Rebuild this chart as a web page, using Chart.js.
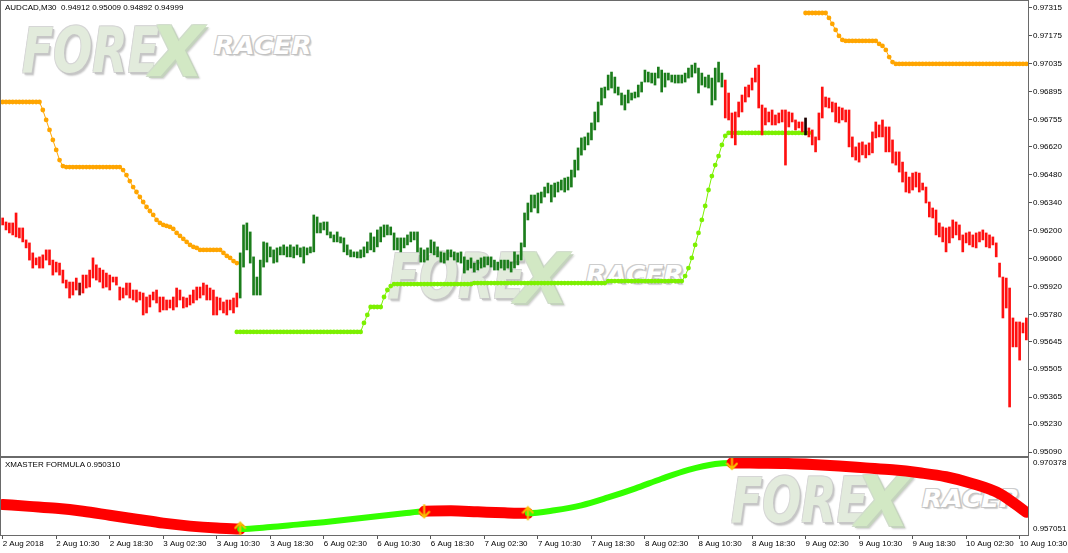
<!DOCTYPE html>
<html>
<head>
<meta charset="utf-8">
<script src="https://cdn.jsdelivr.net/npm/chart.js@4.4.0/dist/chart.umd.min.js"></script>
<style>
html, body { margin: 0; padding: 0; background: #fff; }
#wrap { position: relative; width: 1068px; height: 553px; overflow: hidden; font-family: "Liberation Sans", Arial, sans-serif; }
.box { position: absolute; left: 0; width: 1068px; z-index: 1; }
.wm span { position: absolute; white-space: nowrap; font-family: "DejaVu Sans", sans-serif; font-weight: bold; font-style: italic; line-height: 1; transform-origin: left bottom; z-index: 0; }
.wm .f { font-size: 62px; color: #e2ebdc; transform: scaleX(0.74); text-shadow: 2px 2px 0 #c6c6c6, -1px -1px 0 #d6d6d6, 1px -1px 0 #d6d6d6, -1px 1px 0 #d6d6d6, 3px 3px 2px #cfcfcf; }
.wm .x { font-size: 70px; color: #d2e8c4; transform: scaleX(1.0); text-shadow: 2px 2px 0 #c4d3bd, -1px -1px 0 #d0dccb, 1px -1px 0 #d0dccb, -1px 1px 0 #d0dccb, 3px 3px 2px #cfcfcf; }
.wm .r { font-size: 24px; color: #fff; transform: scaleX(1.1); text-shadow: 1px 1px 0 #c2c2c2, -1px -1px 0 #cdcdcd, 1px -1px 0 #cdcdcd, -1px 1px 0 #cdcdcd, 2px 2px 1px #d0d0d0; }
.frame { position: absolute; border: 1px solid #6a6a6a; box-sizing: border-box; z-index: 2; pointer-events: none; }
.title { position: absolute; left: 5px; font-size: 8px; color: #000; white-space: pre; z-index: 3; }
</style>
</head>
<body>
<div id="wrap">
  <div class="wm">
    <span class="f" style="left:22px;top:20px">FORE</span><span class="x" style="left:150px;top:17px">X</span><span class="r" style="left:214px;top:34px">RACER</span>
    <span class="f" style="left:388px;top:246px">FORE</span><span class="x" style="left:515px;top:244px">X</span><span class="r" style="left:586px;top:263px">RACER</span>
    <span class="f" style="left:731px;top:470px">FORE</span><span class="x" style="left:856px;top:467px">X</span><span class="r" style="left:922px;top:487px">RACER</span>
  </div>
  <div class="box" style="top:0;height:457px"><canvas id="priceChart"></canvas></div>
  <div class="box" style="top:457px;height:96px"><canvas id="xmChart"></canvas></div>
  <div class="frame" style="left:0;top:0;width:1029px;height:457px"></div>
  <div class="frame" style="left:0;top:457px;width:1029px;height:79px"></div>
  <div class="title" style="top:3px">AUDCAD,M30  0.94912 0.95009 0.94892 0.94999</div>
  <div class="title" style="top:460px">XMASTER FORMULA 0.950310</div>
</div>
<script>
// time axis: one label every 16 bars (8 hours of M30)
const timeLabels = ['2 Aug 2018', '2 Aug 10:30', '2 Aug 18:30', '3 Aug 02:30', '3 Aug 10:30', '3 Aug 18:30',
    '6 Aug 02:30', '6 Aug 10:30', '6 Aug 18:30', '7 Aug 02:30', '7 Aug 10:30', '7 Aug 18:30', '8 Aug 02:30',
    '8 Aug 10:30', '8 Aug 18:30', '9 Aug 02:30', '9 Aug 10:30', '9 Aug 18:30', '10 Aug 02:30', '10 Aug 10:30'];
const barsPerLabel = 16;

const priceTicks = [0.97315, 0.97175, 0.97035, 0.96895, 0.96755, 0.96620, 0.96480, 0.96340, 0.96200,
    0.96060, 0.95920, 0.95780, 0.95645, 0.95505, 0.95365, 0.95230, 0.95090];
const xmTicks = [0.970378, 0.957051];

// bar highs / lows, one per M30 bar
const highs = [
    0.96263, 0.96243, 0.96238, 0.96238, 0.96288, 0.96213, 0.96213, 0.96153, 0.96138, 0.96088,
    0.96063, 0.96068, 0.96078, 0.96103, 0.96103, 0.96052, 0.96042, 0.96037, 0.96002, 0.95952,
    0.95942, 0.95942, 0.95962, 0.95937, 0.95977, 0.95977, 0.96002, 0.96063, 0.96028, 0.96012,
    0.96002, 0.95987, 0.95977, 0.95967, 0.95967, 0.95917, 0.95912, 0.95937, 0.95937, 0.95902,
    0.95902, 0.95892, 0.95887, 0.95867, 0.95877, 0.95892, 0.95902, 0.95867, 0.95867, 0.95852,
    0.95852, 0.95867, 0.95912, 0.95902, 0.95867, 0.95862, 0.95877, 0.95902, 0.95917, 0.95917,
    0.95937, 0.95927, 0.95912, 0.95902, 0.95867, 0.95862, 0.95842, 0.95852, 0.95852, 0.95862,
    0.95887, 0.96088, 0.96228, 0.96238, 0.96193, 0.96068, 0.95967, 0.96052, 0.96143, 0.96138,
    0.96118, 0.96103, 0.96113, 0.96118, 0.96128, 0.96118, 0.96128, 0.96118, 0.96128, 0.96113,
    0.96118, 0.96113, 0.96118, 0.96278, 0.96268, 0.96238, 0.96243, 0.96243, 0.96193, 0.96178,
    0.96193, 0.96168, 0.96163, 0.96128, 0.96103, 0.96093, 0.96093, 0.96103, 0.96118, 0.96143,
    0.96188, 0.96168, 0.96203, 0.96218, 0.96228, 0.96228, 0.96218, 0.96188, 0.96163, 0.96163,
    0.96163, 0.96178, 0.96193, 0.96193, 0.96193, 0.96113, 0.96103, 0.96113, 0.96153, 0.96143,
    0.96118, 0.96093, 0.96088, 0.96103, 0.96103, 0.96093, 0.96088, 0.96093, 0.96068, 0.96052,
    0.96063, 0.96037, 0.96052, 0.96063, 0.96068, 0.96068, 0.96068, 0.96052, 0.96042, 0.96052,
    0.96052, 0.96052, 0.96042, 0.96093, 0.96078, 0.96138, 0.96288, 0.96338, 0.96378, 0.96378,
    0.96388, 0.96393, 0.96418, 0.96438, 0.96428, 0.96438, 0.96443, 0.96453, 0.96463, 0.96468,
    0.96503, 0.96553, 0.96614, 0.96664, 0.96669, 0.96689, 0.96739, 0.96794, 0.96844, 0.96914,
    0.96919, 0.96979, 0.96994, 0.96969, 0.96919, 0.96889, 0.96879, 0.96904, 0.96889, 0.96894,
    0.96929, 0.96944, 0.97004, 0.96994, 0.96989, 0.96989, 0.97019, 0.97004, 0.96989, 0.96989,
    0.96979, 0.96979, 0.96979, 0.96979, 0.96989, 0.97014, 0.97029, 0.97039, 0.97014, 0.96989,
    0.96969, 0.96979, 0.96964, 0.97014, 0.97044, 0.96989, 0.96954, 0.96889, 0.96789, 0.96794,
    0.96844, 0.96879, 0.96919, 0.96929, 0.96964, 0.97014, 0.97029, 0.96829, 0.96814, 0.96794,
    0.96804, 0.96779, 0.96789, 0.96804, 0.96804, 0.96794, 0.96789, 0.96754, 0.96744, 0.96744,
    0.96764, 0.96714, 0.96704, 0.96669, 0.96789, 0.96919, 0.96869, 0.96864, 0.96844, 0.96839,
    0.96819, 0.96814, 0.96804, 0.96804, 0.96669, 0.96619, 0.96639, 0.96644, 0.96629, 0.96639,
    0.96694, 0.96744, 0.96729, 0.96754, 0.96719, 0.96719, 0.96654, 0.96594, 0.96594, 0.96543,
    0.96493, 0.96468, 0.96488, 0.96493, 0.96488, 0.96438, 0.96418, 0.96343, 0.96313, 0.96303,
    0.96238, 0.96218, 0.96213, 0.96218, 0.96253, 0.96243, 0.96228, 0.96178, 0.96188, 0.96193,
    0.96178, 0.96188, 0.96193, 0.96203, 0.96188, 0.96178, 0.96168, 0.96138, 0.96037, 0.95967,
    0.95962, 0.95912, 0.95762, 0.95742, 0.95742, 0.95737, 0.95762
];
const lows = [
    0.96228, 0.96203, 0.96188, 0.96178, 0.96168, 0.96163, 0.96143, 0.96113, 0.96052, 0.96012,
    0.96028, 0.96012, 0.96012, 0.96052, 0.96028, 0.95977, 0.95992, 0.95977, 0.95937, 0.95912,
    0.95862, 0.95877, 0.95902, 0.95877, 0.95887, 0.95912, 0.95917, 0.95962, 0.95952, 0.95942,
    0.95912, 0.95917, 0.95902, 0.95942, 0.95927, 0.95852, 0.95862, 0.95877, 0.95862, 0.95852,
    0.95842, 0.95852, 0.95777, 0.95787, 0.95817, 0.95852, 0.95837, 0.95792, 0.95802, 0.95802,
    0.95812, 0.95802, 0.95817, 0.95852, 0.95812, 0.95817, 0.95827, 0.95837, 0.95852, 0.95862,
    0.95877, 0.95852, 0.95852, 0.95777, 0.95777, 0.95802, 0.95787, 0.95777, 0.95802, 0.95787,
    0.95817, 0.95862, 0.96017, 0.96103, 0.96037, 0.95877, 0.95877, 0.95877, 0.96017, 0.96042,
    0.96068, 0.96037, 0.96042, 0.96078, 0.96078, 0.96068, 0.96068, 0.96063, 0.96078, 0.96068,
    0.96037, 0.96078, 0.96088, 0.96093, 0.96188, 0.96188, 0.96203, 0.96178, 0.96163, 0.96143,
    0.96143, 0.96138, 0.96093, 0.96078, 0.96068, 0.96068, 0.96063, 0.96063, 0.96068, 0.96088,
    0.96103, 0.96093, 0.96118, 0.96143, 0.96168, 0.96178, 0.96178, 0.96103, 0.96103, 0.96093,
    0.96113, 0.96128, 0.96143, 0.96153, 0.96093, 0.96042, 0.96042, 0.96052, 0.96088, 0.96078,
    0.96068, 0.96042, 0.96037, 0.96052, 0.96068, 0.96052, 0.96042, 0.96037, 0.95987, 0.96002,
    0.96012, 0.95992, 0.96002, 0.96012, 0.96017, 0.96028, 0.96017, 0.96002, 0.96002, 0.96012,
    0.96002, 0.96012, 0.95992, 0.96012, 0.96028, 0.96052, 0.96118, 0.96253, 0.96293, 0.96313,
    0.96288, 0.96338, 0.96368, 0.96388, 0.96343, 0.96368, 0.96393, 0.96403, 0.96393, 0.96403,
    0.96418, 0.96468, 0.96503, 0.96578, 0.96604, 0.96629, 0.96654, 0.96704, 0.96744, 0.96829,
    0.96864, 0.96904, 0.96914, 0.96889, 0.96879, 0.96829, 0.96804, 0.96839, 0.96854, 0.96864,
    0.96869, 0.96894, 0.96944, 0.96944, 0.96939, 0.96929, 0.96964, 0.96894, 0.96919, 0.96954,
    0.96944, 0.96939, 0.96939, 0.96939, 0.96944, 0.96964, 0.96969, 0.96989, 0.96889, 0.96929,
    0.96919, 0.96914, 0.96829, 0.96854, 0.96944, 0.96919, 0.96764, 0.96754, 0.96664, 0.96629,
    0.96769, 0.96794, 0.96844, 0.96869, 0.96904, 0.96944, 0.96814, 0.96679, 0.96729, 0.96744,
    0.96729, 0.96729, 0.96739, 0.96744, 0.96528, 0.96719, 0.96744, 0.96704, 0.96714, 0.96694,
    0.96679, 0.96669, 0.96629, 0.96594, 0.96654, 0.96764, 0.96819, 0.96814, 0.96794, 0.96744,
    0.96739, 0.96754, 0.96744, 0.96619, 0.96569, 0.96553, 0.96543, 0.96579, 0.96564, 0.96579,
    0.96589, 0.96664, 0.96669, 0.96669, 0.96594, 0.96594, 0.96538, 0.96528, 0.96493, 0.96443,
    0.96393, 0.96388, 0.96403, 0.96418, 0.96393, 0.96403, 0.96338, 0.96268, 0.96263, 0.96178,
    0.96168, 0.96143, 0.96093, 0.96138, 0.96163, 0.96178, 0.96153, 0.96093, 0.96138, 0.96128,
    0.96118, 0.96113, 0.96143, 0.96153, 0.96118, 0.96113, 0.96128, 0.96068, 0.95967, 0.95762,
    0.95812, 0.95316, 0.95617, 0.95617, 0.95551, 0.95687, 0.95652
];
// bars coloured by trend: green run in the middle, two neutral bars
const bullFrom = 71;
const bullTo = 215;
const neutralBars = [23, 240];

// orange stop dots (two runs) and lime support dots
const orangeLeftStart = 0;
const orangeLeft = [
    0.96844, 0.96844, 0.96844, 0.96844, 0.96844, 0.96844, 0.96844, 0.96844, 0.96844, 0.96844,
    0.96844, 0.96844, 0.96804, 0.96754, 0.96704, 0.96654, 0.96604, 0.96553, 0.96523, 0.96518,
    0.96518, 0.96518, 0.96518, 0.96518, 0.96518, 0.96518, 0.96518, 0.96518, 0.96518, 0.96518,
    0.96518, 0.96518, 0.96518, 0.96518, 0.96518, 0.96518, 0.96503, 0.96478, 0.96448, 0.96418,
    0.96393, 0.96368, 0.96343, 0.96318, 0.96298, 0.96278, 0.96253, 0.96238, 0.96228, 0.96223,
    0.96218, 0.96208, 0.96188, 0.96173, 0.96158, 0.96143, 0.96128, 0.96118, 0.96113, 0.96103,
    0.96103, 0.96103, 0.96103, 0.96103, 0.96103, 0.96103, 0.96088, 0.96073, 0.96063, 0.96047,
    0.96037
];
const orangeRightStart = 240;
const orangeRight = [
    0.97290, 0.97290, 0.97290, 0.97290, 0.97290, 0.97290, 0.97290, 0.97265, 0.97235, 0.97205,
    0.97175, 0.97155, 0.97150, 0.97150, 0.97150, 0.97150, 0.97150, 0.97150, 0.97150, 0.97150,
    0.97150, 0.97150, 0.97135, 0.97125, 0.97105, 0.97069, 0.97044, 0.97035, 0.97035, 0.97035,
    0.97035, 0.97035, 0.97035, 0.97035, 0.97035, 0.97035, 0.97035, 0.97035, 0.97035, 0.97035,
    0.97035, 0.97035, 0.97035, 0.97035, 0.97035, 0.97035, 0.97035, 0.97035, 0.97035, 0.97035,
    0.97035, 0.97035, 0.97035, 0.97035, 0.97035, 0.97035, 0.97035, 0.97035, 0.97035, 0.97035,
    0.97035, 0.97035, 0.97035, 0.97035, 0.97035, 0.97035, 0.97035
];
const limeStart = 70;
const lime = [
    0.95692, 0.95692, 0.95692, 0.95692, 0.95692, 0.95692, 0.95692, 0.95692, 0.95692, 0.95692,
    0.95692, 0.95692, 0.95692, 0.95692, 0.95692, 0.95692, 0.95692, 0.95692, 0.95692, 0.95692,
    0.95692, 0.95692, 0.95692, 0.95692, 0.95692, 0.95692, 0.95692, 0.95692, 0.95692, 0.95692,
    0.95692, 0.95692, 0.95692, 0.95692, 0.95692, 0.95692, 0.95692, 0.95692, 0.95737, 0.95777,
    0.95817, 0.95817, 0.95817, 0.95817, 0.95867, 0.95902, 0.95922, 0.95932, 0.95932, 0.95932,
    0.95932, 0.95932, 0.95932, 0.95932, 0.95932, 0.95932, 0.95932, 0.95932, 0.95932, 0.95932,
    0.95932, 0.95932, 0.95932, 0.95932, 0.95932, 0.95932, 0.95932, 0.95932, 0.95932, 0.95932,
    0.95932, 0.95937, 0.95937, 0.95937, 0.95937, 0.95937, 0.95937, 0.95937, 0.95937, 0.95937,
    0.95937, 0.95937, 0.95937, 0.95937, 0.95937, 0.95937, 0.95937, 0.95937, 0.95937, 0.95937,
    0.95937, 0.95937, 0.95937, 0.95937, 0.95937, 0.95937, 0.95937, 0.95937, 0.95937, 0.95937,
    0.95937, 0.95937, 0.95937, 0.95937, 0.95937, 0.95937, 0.95937, 0.95937, 0.95937, 0.95937,
    0.95937, 0.95947, 0.95947, 0.95947, 0.95947, 0.95947, 0.95947, 0.95947, 0.95947, 0.95947,
    0.95947, 0.95947, 0.95947, 0.95947, 0.95947, 0.95947, 0.95947, 0.95947, 0.95947, 0.95947,
    0.95947, 0.95947, 0.95947, 0.95947, 0.95972, 0.96012, 0.96063, 0.96128, 0.96188, 0.96253,
    0.96323, 0.96403, 0.96473, 0.96528, 0.96573, 0.96629, 0.96674, 0.96689, 0.96689, 0.96689,
    0.96689, 0.96689, 0.96689, 0.96689, 0.96689, 0.96689, 0.96689, 0.96689, 0.96689, 0.96689,
    0.96689, 0.96689, 0.96689, 0.96689, 0.96689, 0.96689, 0.96689, 0.96689, 0.96689, 0.96689,
    0.96689, 0.96689
];

// XMASTER FORMULA line: bar index, value, colour of the stretch that starts there
const xmBars = [0, 8, 16, 24, 32, 40, 48, 56, 64, 71, 80, 88, 96, 104, 112, 120, 126, 134, 142, 150,
    157, 165, 173, 181, 189, 197, 205, 213, 218, 226, 234, 242, 250, 258, 266, 274, 282, 290, 298, 306];
const xmValues = [0.962024, 0.961626, 0.961229, 0.960632, 0.959836, 0.959041, 0.958245, 0.957648,
    0.957251, 0.957052, 0.957449, 0.957946, 0.958444, 0.959041, 0.959637, 0.960234, 0.960632, 0.960731,
    0.960532, 0.960334, 0.960234, 0.960831, 0.961825, 0.963417, 0.965207, 0.967196, 0.968986, 0.970179,
    0.970378, 0.970330, 0.970279, 0.970080, 0.969781, 0.969384, 0.968986, 0.968389, 0.967593, 0.966201,
    0.964212, 0.960433];
const xmTrend = ['r', 'r', 'r', 'r', 'r', 'r', 'r', 'r', 'r', 'g', 'g', 'g', 'g', 'g', 'g', 'g', 'r', 'r',
    'r', 'r', 'g', 'g', 'g', 'g', 'g', 'g', 'g', 'g', 'r', 'r', 'r', 'r', 'r', 'r', 'r', 'r', 'r', 'r', 'r', 'r'];
const xmArrowBars = [71, 126, 157, 218];
const xmArrowValues = [0.957152, 0.960632, 0.960234, 0.970378];
const xmArrowDir = ['up', 'down', 'up', 'down'];

const barCount = highs.length;
const GREEN_BAR = '#1b7d1b';
const RED_BAR = '#ff1010';

Chart.defaults.font.family = '"Liberation Sans", Arial, sans-serif';
Chart.defaults.font.size = 8;
Chart.defaults.color = '#000';

function barColor(i) {
    if (neutralBars.includes(i)) return i < bullFrom ? '#7a0c0c' : '#1a0000';
    return (i >= bullFrom && i <= bullTo) ? GREEN_BAR : RED_BAR;
}

function arrowIcon(dir) {
    const c = document.createElement('canvas');
    c.width = 13;
    c.height = 16;
    const g = c.getContext('2d');
    g.strokeStyle = '#f7c200';
    g.lineWidth = 2;
    g.beginPath();
    if (dir === 'up') {
        g.moveTo(6.5, 15); g.lineTo(6.5, 2);
        g.moveTo(1, 8); g.lineTo(6.5, 2); g.lineTo(12, 8);
    } else {
        g.moveTo(6.5, 1); g.lineTo(6.5, 14);
        g.moveTo(1, 8); g.lineTo(6.5, 14); g.lineTo(12, 8);
    }
    g.stroke();
    return c;
}

const xRange = { type: 'linear', min: -0.5, max: barCount - 0.5, offset: false };

// --- price window ---
new Chart(document.getElementById('priceChart'), {
    type: 'bar',
    data: {
        datasets: [
            {
                type: 'bar',
                data: highs.map((h, i) => ({ x: i, y: [lows[i], h] })),
                backgroundColor: highs.map((h, i) => barColor(i)),
                barThickness: 2,
                borderWidth: 0,
                order: 0
            },
            {
                type: 'line',
                data: orangeLeft.map((v, k) => ({ x: orangeLeftStart + k, y: v })),
                borderColor: '#ffa500', backgroundColor: '#ffa500',
                borderWidth: 1, pointRadius: 2.4, pointBorderWidth: 0, order: 1
            },
            {
                type: 'line',
                data: orangeRight.map((v, k) => ({ x: orangeRightStart + k, y: v })),
                borderColor: '#ffa500', backgroundColor: '#ffa500',
                borderWidth: 1, pointRadius: 2.4, pointBorderWidth: 0, order: 1
            },
            {
                type: 'line',
                data: lime.map((v, k) => ({ x: limeStart + k, y: v })),
                borderColor: '#7cf000', backgroundColor: '#7cf000',
                borderWidth: 1, pointRadius: 2.4, pointBorderWidth: 0, order: 1
            }
        ]
    },
    options: {
        responsive: true,
        maintainAspectRatio: false,
        animation: false,
        layout: { autoPadding: false, padding: { top: 2, bottom: 2, left: 1, right: 0 } },
        plugins: { legend: { display: false }, tooltip: { enabled: false } },
        scales: {
            x: { ...xRange, display: false },
            y: {
                type: 'linear',
                position: 'right',
                min: 0.9507545,
                max: 0.97345,
                border: { display: false },
                grid: { drawOnChartArea: false, drawTicks: true, tickLength: 4, color: '#555' },
                ticks: { padding: 1, callback: v => v.toFixed(5) },
                afterBuildTicks: s => { s.ticks = priceTicks.map(v => ({ value: v })); },
                afterFit: s => { s.width = 40; s.paddingTop = 0; s.paddingBottom = 0; }
            }
        }
    }
});

// --- indicator window ---
new Chart(document.getElementById('xmChart'), {
    type: 'line',
    data: {
        datasets: [
            {
                data: xmBars.map((b, k) => ({ x: b, y: xmValues[k] })),
                borderColor: '#ff0000',
                borderWidth: 10,
                borderCapStyle: 'round',
                cubicInterpolationMode: 'monotone',
                pointRadius: 0,
                segment: {
                    borderColor: ctx => xmTrend[ctx.p0DataIndex] === 'g' ? '#33ff00' : '#ff0000',
                    borderWidth: ctx => xmTrend[ctx.p0DataIndex] === 'g' ? 6 : 11
                },
                order: 1
            },
            {
                data: xmArrowBars.map((b, k) => ({ x: b, y: xmArrowValues[k] })),
                showLine: false,
                pointStyle: xmArrowDir.map(arrowIcon),
                pointRadius: 8,
                order: 0
            }
        ]
    },
    options: {
        responsive: true,
        maintainAspectRatio: false,
        animation: false,
        layout: { autoPadding: false, padding: { top: 1, bottom: 0, left: 1, right: 0 } },
        plugins: { legend: { display: false }, tooltip: { enabled: false } },
        scales: {
            x: {
                ...xRange,
                position: 'bottom',
                border: { display: false },
                grid: { drawOnChartArea: false, drawTicks: true, tickLength: 4, color: '#555' },
                ticks: { align: 'start', padding: 0, maxRotation: 0, autoSkip: false,
                    callback: (v, i) => timeLabels[i] },
                afterBuildTicks: s => { s.ticks = timeLabels.map((t, k) => ({ value: k * barsPerLabel })); },
                afterFit: s => { s.height = 18; s.paddingLeft = 0; s.paddingRight = 0; }
            },
            y: {
                type: 'linear',
                position: 'right',
                min: 0.955857,
                max: 0.971373,
                border: { display: false },
                grid: { drawOnChartArea: false, drawTicks: false },
                ticks: { padding: 5, callback: v => v.toFixed(6) },
                afterBuildTicks: s => { s.ticks = xmTicks.map(v => ({ value: v })); },
                afterFit: s => { s.width = 40; s.paddingTop = 0; s.paddingBottom = 0; }
            }
        }
    }
});
</script>
</body>
</html>
